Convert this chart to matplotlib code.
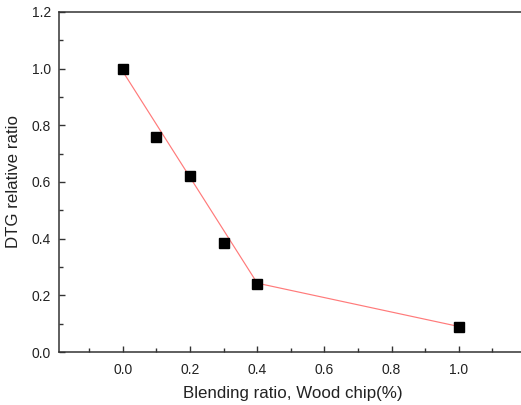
import matplotlib
matplotlib.use("Agg")
import matplotlib.pyplot as plt
from matplotlib.ticker import MultipleLocator

# data
blend_x = [0.0, 0.1, 0.2, 0.3, 0.4, 1.0]
dtg_ratio = [1.0, 0.76, 0.62, 0.385, 0.24, 0.09]
# red guide line (fit over 0-0.4, then joined to 1.0)
line_x = [0.0, 0.4, 1.0]
line_y = [0.99, 0.243, 0.09]

plt.rcParams['font.family'] = ['Liberation Sans', 'DejaVu Sans']

W, H = 521, 405
fig = plt.figure(figsize=(W / 100, H / 100), dpi=100)
left, right, top, bottom = 59, 526, 12, 352
ax = fig.add_axes([left / W, 1 - bottom / H, (right - left) / W, (bottom - top) / H])

ax.plot(line_x, line_y, color='#ff7a7a', lw=0.85, zorder=2)
ax.plot(blend_x, dtg_ratio, ls='none', marker='s', ms=6.5, color='black', zorder=3)

ax.set_xlim(-0.19, 1.2)
ax.set_ylim(0.0, 1.2)
ax.xaxis.set_minor_locator(MultipleLocator(0.1))
ax.yaxis.set_major_locator(MultipleLocator(0.2))
ax.yaxis.set_minor_locator(MultipleLocator(0.1))
ax.set_xticks([0.0, 0.2, 0.4, 0.6, 0.8, 1.0])
ax.xaxis.set_major_formatter(plt.FuncFormatter(lambda v, p: f"{v:.1f}"))
ax.yaxis.set_major_formatter(plt.FuncFormatter(lambda v, p: f"{v:.1f}"))

for s in ax.spines.values():
    s.set_color('#333333')
    s.set_linewidth(1.1)
ax.spines['right'].set_visible(False)

ax.tick_params(which='both', direction='in', top=False, right=False,
               color='#333333', labelsize=10, labelcolor='#222222', width=1.0)
ax.tick_params(which='major', length=4.5)
ax.tick_params(which='minor', length=3)
ax.tick_params(axis='x', which='major', pad=8)
ax.tick_params(axis='y', which='major', pad=5.8)

ax.set_xlabel('Blending ratio, Wood chip(%)', fontsize=12.2, color='#222222', labelpad=6.6)
ax.set_ylabel('DTG relative ratio', fontsize=12.2, color='#222222', labelpad=7.3)

fig.savefig('out.png', dpi=100)
